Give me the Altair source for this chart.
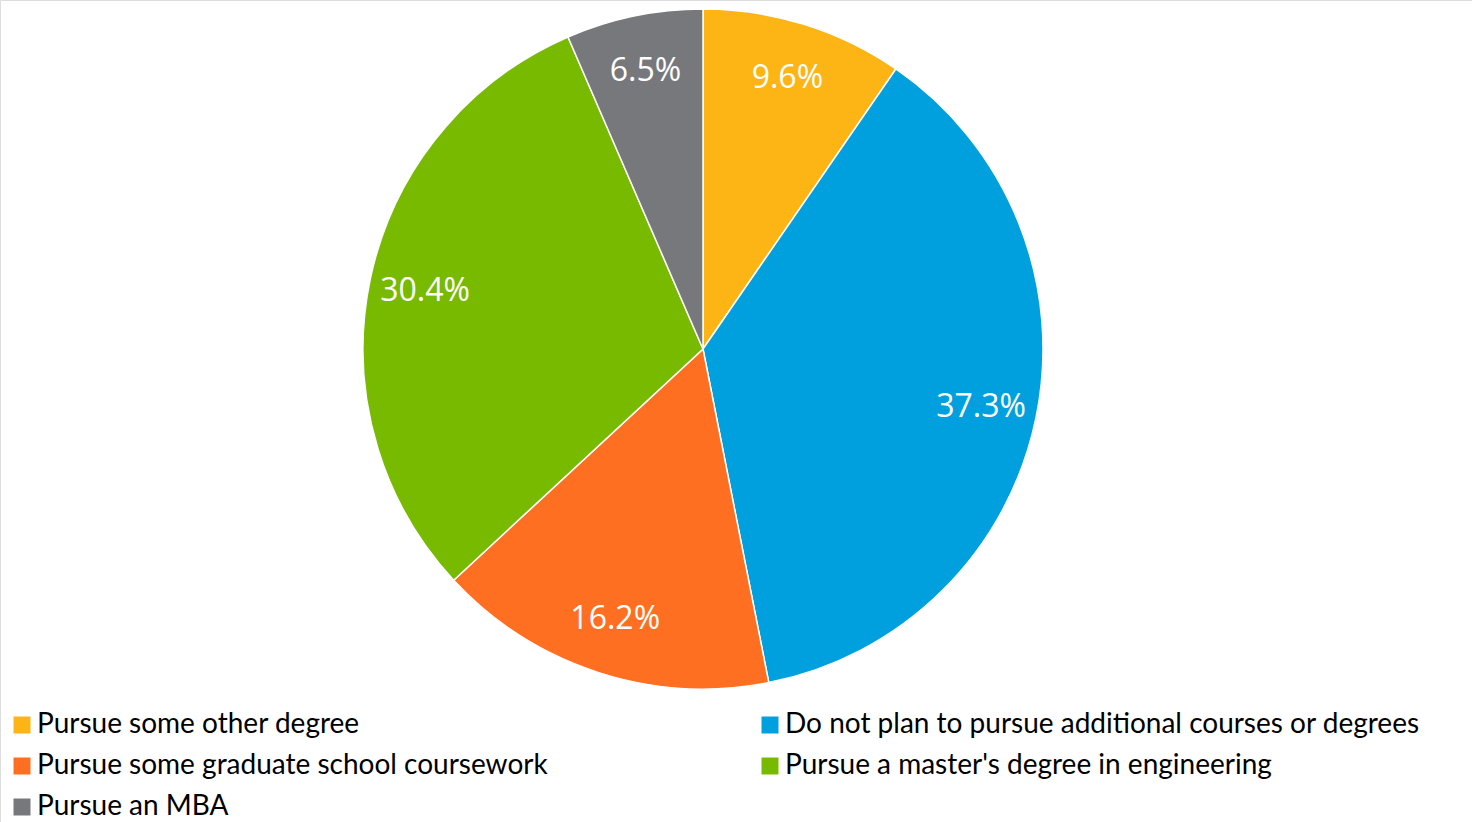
import altair as alt
import pandas as pd

categories = [
    "Pursue some other degree",
    "Do not plan to pursue additional courses or degrees",
    "Pursue some graduate school coursework",
    "Pursue a master's degree in engineering",
    "Pursue an MBA",
]
values = [9.6, 37.3, 16.2, 30.4, 6.5]
labels = ["9.6%", "37.3%", "16.2%", "30.4%", "6.5%"]
colors = ["#FDB515", "#00A0DF", "#FF6F21", "#78BA00", "#77787B"]

df = pd.DataFrame({
    "category": categories,
    "value": values,
    "label": labels,
    "order": list(range(len(categories))),
})

base = alt.Chart(df).encode(
    theta=alt.Theta("value:Q", stack=True),
    order=alt.Order("order:Q", sort="ascending"),
)

pie = base.mark_arc(stroke="white", strokeWidth=1.5).encode(
    x=alt.value(703),
    y=alt.value(349),
    radius=alt.value(340),
    color=alt.Color(
        "category:N",
        scale=alt.Scale(domain=categories, range=colors),
        sort=categories,
        legend=alt.Legend(
            title=None,
            orient="none",
            legendX=8,
            legendY=711,
            direction="horizontal",
            columns=2,
            columnPadding=208,
            rowPadding=13,
            padding=0,
            symbolType="square",
            symbolSize=289,
            symbolStrokeWidth=0,
            labelFont="Lato",
            labelFontSize=28,
            labelColor="#000000",
            labelLimit=0,
            labelOffset=1,
        ),
    ),
)

text = base.mark_text(font="Open Sans", fontSize=32, color="white").encode(
    x=alt.value(703),
    y=alt.value(349),
    radius=alt.value(284),
    text="label:N",
)

chart = (
    alt.layer(pie, text)
    .properties(width=1472, height=822, padding=0, autosize=alt.AutoSizeParams(type="none"))
    .configure_view(stroke=None)
    .configure(background="white")
)

chart.save("out.html", embed_options={"renderer": "svg", "actions": False})
